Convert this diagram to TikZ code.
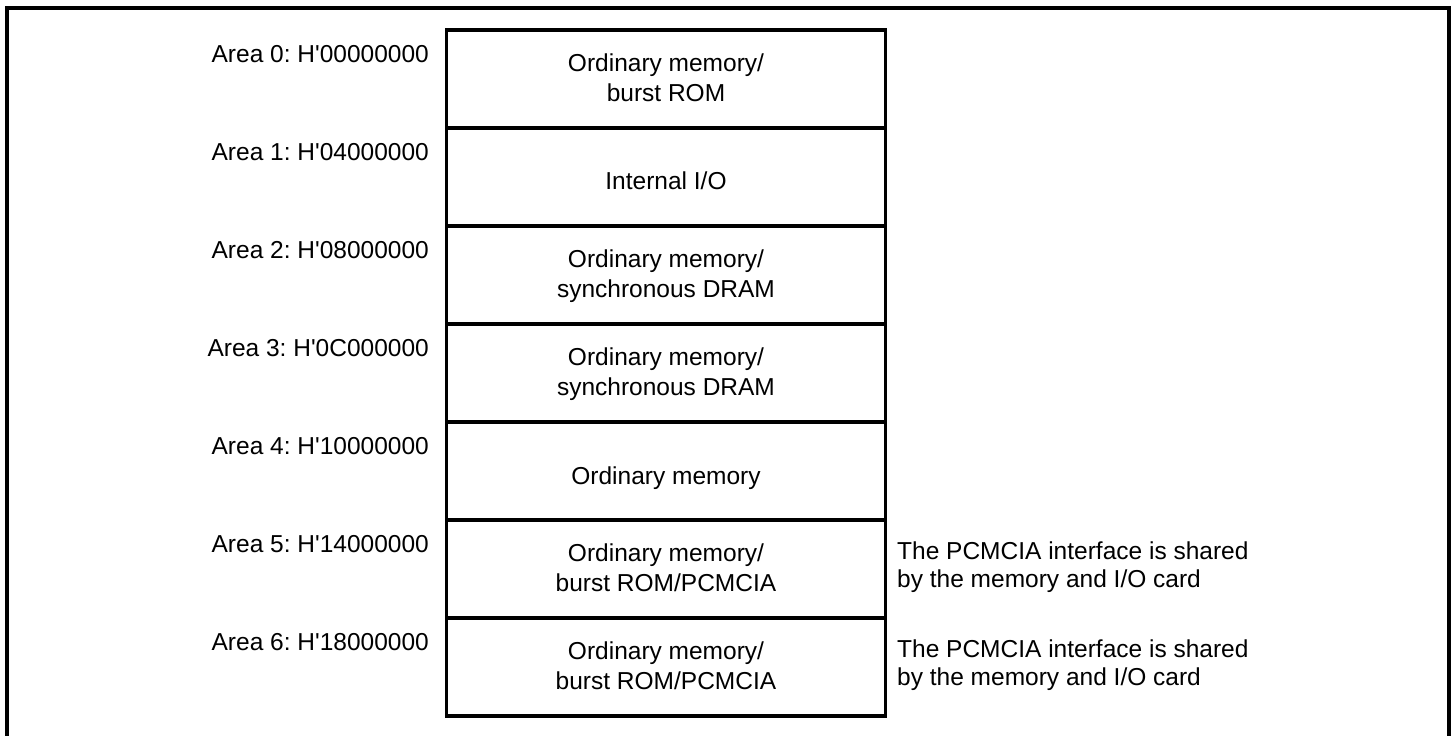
\documentclass[tikz,border=0pt]{standalone}
\usepackage{fontspec}
\setmainfont{Liberation Sans}
\frenchspacing
\begin{document}
\begin{tikzpicture}[x=1pt,y=-1pt,
  frame/.style={line width=4pt},
  rowbox/.style={draw, line width=3.5pt, minimum width=439pt, minimum height=98pt, inner sep=0pt, outer sep=0pt, anchor=north west},
  txt/.style={font=\fontsize{24.5}{30}\selectfont, inner sep=0pt, align=center, anchor=base},
  lbl/.style={font=\fontsize{24.5}{30}\selectfont, inner sep=0pt, anchor=base east},
  note/.style={font=\fontsize{24.5}{28}\selectfont, inner sep=0pt, align=left, anchor=base west}]
\useasboundingbox (0,0) rectangle (1451,736);
\clip (0,0) rectangle (1451,736);
\draw[frame] (7,8) rectangle (1448.5,780);
% rows
\foreach \i/\t in {0/30,1/128,2/226,3/324,4/422,5/520,6/618}{
  \node[rowbox] (r\i) at (446.5,\t) {};
}
% labels
\node[lbl] (l0) at (429,62) {Area 0: H\textquotesingle 00000000};
\node[lbl] (l1) at (429,160) {Area 1: H\textquotesingle 04000000};
\node[lbl] (l2) at (429,258) {Area 2: H\textquotesingle 08000000};
\node[lbl] (l3) at (429,356) {Area 3: H\textquotesingle 0C000000};
\node[lbl] (l4) at (429,454) {Area 4: H\textquotesingle 10000000};
\node[lbl] (l5) at (429,552) {Area 5: H\textquotesingle 14000000};
\node[lbl] (l6) at (429,650) {Area 6: H\textquotesingle 18000000};
% contents (base anchor = baseline of last line)
\node[txt] (t0) at (666,101.5) {Ordinary memory/\\burst ROM};
\node[txt] (t1) at (666,189) {Internal I/O};
\node[txt] (t2) at (666,297.5) {Ordinary memory/\\synchronous DRAM};
\node[txt] (t3) at (666,395.5) {Ordinary memory/\\synchronous DRAM};
\node[txt] (t4) at (666,484) {Ordinary memory};
\node[txt] (t5) at (666,591.5) {Ordinary memory/\\burst ROM/PCMCIA};
\node[txt] (t6) at (666,689.5) {Ordinary memory/\\burst ROM/PCMCIA};
% notes
\node[note] (n5) at (897,587) {The PCMCIA interface is shared\\by the memory and I/O card};
\node[note] (n6) at (897,685) {The PCMCIA interface is shared\\by the memory and I/O card};
\end{tikzpicture}
\end{document}
